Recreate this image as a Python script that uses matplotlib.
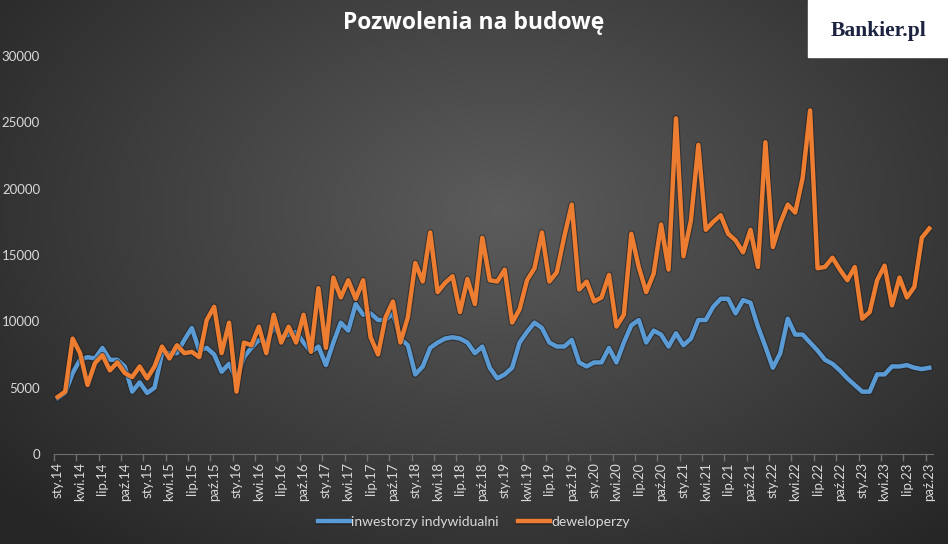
import numpy as np
import matplotlib
matplotlib.use("Agg")
import matplotlib.pyplot as plt
import matplotlib.patheffects as pe

# miesiace od sty.14 do paz.23
miesiace = ["sty", "lut", "mar", "kwi", "maj", "cze", "lip", "sie", "wrz", "paź", "lis", "gru"]
lata = list(range(14, 24))
etykiety = [f"{m}.{r}" for r in lata for m in miesiace][:118]

inwestorzy = [4200, 4600, 6100, 7100, 7300, 7200, 8000, 7100, 7100, 6600, 4700, 5400,
              4600, 5000, 7600, 7600, 7600, 8600, 9500, 7800, 8000, 7500, 6200, 6800,
              5600, 7300, 8000, 8600, 8400, 9600, 8800, 9000, 9200, 8400, 7700, 8100,
              6700, 8400, 9900, 9300, 11300, 10500, 10600, 10100, 10100, 10600, 8700, 8200,
              6000, 6600, 8000, 8400, 8700, 8800, 8700, 8400, 7600, 8100, 6500, 5700,
              6000, 6500, 8400, 9200, 9900, 9500, 8400, 8100, 8100, 8600, 6900, 6600,
              6900, 6900, 8000, 6900, 8400, 9700, 10100, 8400, 9300, 9000, 8100, 9100,
              8200, 8700, 10100, 10100, 11100, 11700, 11700, 10600, 11600, 11400, 9600, 8100,
              6500, 7600, 10200, 9000, 9000, 8400, 7800, 7100, 6800, 6300, 5700, 5200,
              4700, 4700, 6000, 6000, 6600, 6600, 6700, 6500, 6400, 6500]

deweloperzy = [4300, 4700, 8700, 7600, 5200, 6850, 7450, 6300, 6900, 6100, 5800, 6600,
               5700, 6600, 8100, 7200, 8200, 7600, 7700, 7300, 10100, 11100, 7600, 9900,
               4700, 8400, 8200, 9600, 7600, 10500, 8400, 9600, 8400, 10500, 7700, 12500,
               8000, 13300, 11800, 13100, 11700, 13100, 8800, 7500, 10300, 11500, 8400, 10300,
               14400, 13000, 16700, 12200, 12900, 13400, 10700, 13200, 11300, 16300, 13100, 13000,
               13900, 9900, 10900, 13100, 14000, 16700, 13000, 13700, 16400, 18800, 12400, 13000,
               11500, 11800, 13500, 9600, 10500, 16600, 14100, 12200, 13600, 17300, 13900, 25300,
               14900, 17600, 23300, 16900, 17500, 18000, 16600, 16100, 15200, 16900, 14100, 23500,
               15600, 17400, 18800, 18200, 20800, 25900, 14000, 14100, 14800, 13900, 13100, 14100,
               10200, 10700, 13100, 14200, 11200, 13300, 11800, 12600, 16300, 17000]

W, H = 948, 544
fig = plt.figure(figsize=(W / 100, H / 100), dpi=100)

# tlo z gradientem
bg = fig.add_axes([0, 0, 1, 1])
yy, xx = np.mgrid[0:H, 0:W]
r = np.sqrt(((xx - 500) / 620.0) ** 2 + ((yy - 210) / 420.0) ** 2)
shade = np.clip(0.36 - 0.2 * r, 0.15, 0.36)
bg.imshow(np.dstack([shade, shade, shade]), extent=[0, W, H, 0], aspect="auto")
bg.set_xlim(0, W)
bg.set_ylim(H, 0)
bg.axis("off")

ax = fig.add_axes([54 / W, 1 - 454 / H, 879 / W, 398 / H])
ax.patch.set_alpha(0)
x = np.arange(len(etykiety))

cien = [pe.Stroke(linewidth=4.8, foreground="#1e1e1e", alpha=0.55), pe.Normal()]
l1, = ax.plot(x, inwestorzy, color="#5B9BD5", lw=3.2, solid_joinstyle="round",
              path_effects=cien, label="inwestorzy indywidualni")
l2, = ax.plot(x, deweloperzy, color="#ED7D31", lw=3.2, solid_joinstyle="round",
              path_effects=cien, label="deweloperzy")

ax.set_xlim(-0.5, len(x) - 0.5)
ax.set_ylim(0, 30000)
ax.set_yticks(range(0, 30001, 5000))
ax.set_xticks(x[::3])
ax.set_xticklabels(etykiety[::3], rotation=90)
ax.set_xticks(x[::3] - 0.5, minor=True)
ax.tick_params(axis="x", which="major", length=0, pad=6, labelsize=9.5, labelcolor="#d9d9d9")
ax.tick_params(axis="x", which="minor", length=5, color="#6e6e6e", width=1)
ax.tick_params(axis="y", length=0, pad=10, labelsize=9.5, labelcolor="#d9d9d9")
for lab in ax.get_xticklabels() + ax.get_yticklabels():
    lab.set_family("Lato")
for s in ["top", "right", "left"]:
    ax.spines[s].set_visible(False)
ax.spines["bottom"].set_color("#6e6e6e")

fig.text(474 / W, 1 - 23 / H, "Pozwolenia na budowę", ha="center", va="center",
         color="white", fontsize=16.5, fontweight="bold", family="Open Sans")

leg = fig.legend(handles=[l1, l2], loc="center", bbox_to_anchor=(474 / W, 1 - 522 / H),
                 ncol=2, frameon=False, handlelength=2.3, handletextpad=0.1,
                 columnspacing=1.4, prop={"family": "Lato", "size": 10})
for t in leg.get_texts():
    t.set_color("#d9d9d9")

# logo
bg.add_patch(plt.Rectangle((808, 0), W - 808, 57, color="white", zorder=5))
bg.text(879, 31, "Bankier.pl", ha="center", va="center", color="#1c2340",
        fontsize=15.5, fontweight="bold", family="Liberation Serif", zorder=6)

fig.savefig("out.png", dpi=100)
